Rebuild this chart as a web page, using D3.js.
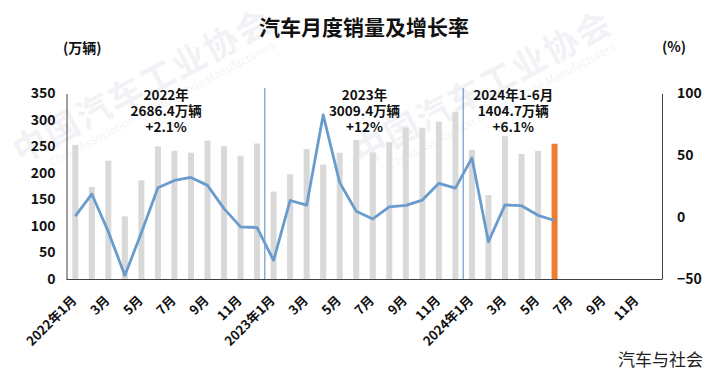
<!DOCTYPE html>
<html>
<head>
<meta charset="utf-8">
<script src="https://cdn.jsdelivr.net/npm/d3@7"></script>
<style>
  body { margin: 0; background: #fff; }
  svg { display: block; font-family: "Noto Sans CJK SC", "Noto Sans", sans-serif; }
</style>
</head>
<body>
<div class="viz"></div>
<script>
const width = 713;
const height = 375;

// month labels on the category axis (36 months, 2022-2024)
const monthLabels = [
    "2022年1月", "2月", "3月", "4月", "5月", "6月", "7月", "8月", "9月", "10月", "11月", "12月",
    "2023年1月", "2月", "3月", "4月", "5月", "6月", "7月", "8月", "9月", "10月", "11月", "12月",
    "2024年1月", "2月", "3月", "4月", "5月", "6月", "7月", "8月", "9月", "10月", "11月", "12月"
];

// monthly sales (万辆)
const sales2022 = [253.1, 173.7, 223.4, 118.1, 186.2, 250.2, 242.0, 238.3, 261.0, 250.5, 232.6, 255.6];
const sales2023 = [164.9, 197.6, 245.1, 215.9, 238.2, 262.2, 238.7, 258.2, 285.8, 285.3, 297.0, 315.6];
const sales2024 = [243.9, 158.4, 269.4, 235.9, 241.7, 255.2];

// year-on-year growth (%)
const growth2022 = [0.9, 18.7, -11.7, -47.1, -12.6, 23.8, 29.7, 32.1, 25.7, 6.9, -7.9, -8.4];
const growth2023 = [-35.0, 13.5, 9.7, 82.7, 27.9, 4.8, -1.4, 8.4, 9.5, 13.8, 27.4, 23.5];
const growth2024 = [47.9, -19.9, 9.9, 9.3, 1.5, -2.7];

const leftTicks = [0, 50, 100, 150, 200, 250, 300, 350];
const rightTicks = [-50, 0, 50, 100];

// yearly summary notes
const yearNotes = [
    { from: 0, to: 11, lines: ["2022年", "2686.4万辆", "+2.1%"] },
    { from: 12, to: 23, lines: ["2023年", "3009.4万辆", "+12%"] },
    { from: 24, to: 29, lines: ["2024年1-6月", "1404.7万辆", "+6.1%"] }
];

const sales = sales2022.concat(sales2023, sales2024);
const growth = growth2022.concat(growth2023, growth2024);

const svg = d3.select(".viz")
    .append("svg")
    .attr("width", width)
    .attr("height", height);

// faint watermark
const marks = [
    { x: 21, y: 164 },
    { x: 361, y: 166 }
];
marks.forEach(m => {
    const t = svg.append("text")
        .attr("transform", `translate(${m.x},${m.y}) rotate(-28)`)
        .style("opacity", 0.06)
        .attr("fill", "#1d3c6e");
    t.append("tspan")
        .attr("x", 0)
        .attr("font-size", 34)
        .attr("font-weight", "bold")
        .attr("letter-spacing", 2)
        .text("中国汽车工业协会");
    t.append("tspan")
        .attr("x", 26)
        .attr("dy", 17)
        .attr("font-size", 11.5)
        .text("China Association of Automobile Manufacturers");
});

const x = d3.scaleBand()
    .domain(d3.range(monthLabels.length))
    .range([67, 662]);

const yLeft = d3.scaleLinear().domain([0, 350]).range([279, 93.5]);
const yRight = d3.scaleLinear().domain([-50, 100]).range([279, 93.5]);

const cx = i => x(i) + x.bandwidth() / 2;
const barW = 6;

// bars
svg.selectAll(".bar")
    .data(sales)
    .enter()
    .append("rect")
    .attr("class", "bar")
    .attr("x", (d, i) => cx(i) - barW / 2)
    .attr("y", d => yLeft(d))
    .attr("width", barW)
    .attr("height", d => yLeft(0) - yLeft(d))
    .style("fill", (d, i) => i === sales.length - 1 ? "#ED7D31" : "#D9D9D9");

// separators between years
svg.selectAll(".sep")
    .data([12, 24])
    .enter()
    .append("line")
    .attr("x1", d => x(d) - 0.5)
    .attr("x2", d => x(d) - 0.5)
    .attr("y1", 88)
    .attr("y2", 279)
    .style("stroke", "#5585bf")
    .style("stroke-width", 1);

// growth line
const line = d3.line()
    .x((d, i) => cx(i))
    .y(d => yRight(d));

svg.append("path")
    .datum(growth)
    .attr("d", line)
    .style("fill", "none")
    .style("stroke", "#6A9BCD")
    .style("stroke-width", 2.8)
    .style("stroke-linejoin", "round");

// axes
const leftAxis = d3.axisLeft(yLeft).tickValues(leftTicks).tickSize(0).tickPadding(11);
const rightAxis = d3.axisRight(yRight).tickValues(rightTicks).tickSize(0).tickPadding(15);
const bottomAxis = d3.axisBottom(x)
    .tickValues(d3.range(0, monthLabels.length, 2))
    .tickSize(0)
    .tickFormat(i => monthLabels[i]);

const gl = svg.append("g").attr("transform", "translate(66.5,0)").call(leftAxis);
const gr = svg.append("g").attr("transform", "translate(662,0)").call(rightAxis);
const gb = svg.append("g").attr("transform", "translate(0,279)").call(bottomAxis);

[gl, gr, gb].forEach(g => {
    g.select(".domain").style("stroke", "#404040").style("stroke-width", 1);
    g.selectAll("text")
        .style("font-family", "\"Noto Sans CJK SC\", sans-serif")
        .style("font-weight", "bold")
        .style("fill", "#111");
});
gl.selectAll("text").style("font-size", "14px");
gr.selectAll("text").style("font-size", "14px").attr("text-anchor", "start");
gb.select(".domain").attr("d", "M66.5,0.5H662");

gb.selectAll("text")
    .style("font-size", "13px")
    .attr("text-anchor", "end")
    .attr("y", 0)
    .attr("dy", "0.35em")
    .attr("transform", "translate(-1,19) rotate(-45)");

// year notes, one text block each
yearNotes.forEach(n => {
    const mid = (cx(n.from) + cx(n.to)) / 2;
    const t = svg.append("text")
        .attr("text-anchor", "middle")
        .style("font-size", "13.5px")
        .style("font-weight", "bold")
        .style("fill", "#111");
    n.lines.forEach((s, k) => {
        t.append("tspan")
            .attr("x", mid)
            .attr("y", 100 + k * 16)
            .text(s);
    });
});

// title and unit labels
svg.append("text")
    .attr("x", 364)
    .attr("y", 35)
    .attr("text-anchor", "middle")
    .style("font-size", "21px")
    .style("font-weight", "bold")
    .style("fill", "#111")
    .text("汽车月度销量及增长率");

svg.append("text")
    .attr("x", 63)
    .attr("y", 53)
    .style("font-size", "14px")
    .style("font-weight", "bold")
    .style("fill", "#111")
    .text("(万辆)");

svg.append("text")
    .attr("x", 662)
    .attr("y", 52)
    .style("font-size", "14px")
    .style("font-weight", "bold")
    .style("fill", "#111")
    .text("(%)");

svg.append("text")
    .attr("x", 703)
    .attr("y", 366)
    .attr("text-anchor", "end")
    .style("font-size", "17px")
    .style("fill", "#222")
    .text("汽车与社会");
</script>
</body>
</html>
